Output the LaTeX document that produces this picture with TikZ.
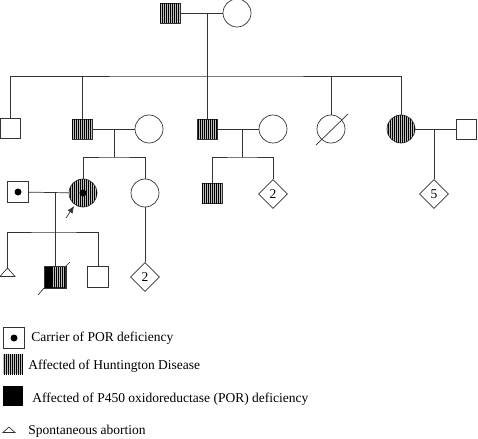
\documentclass[tikz,border=0pt]{standalone}
\usepackage{fontspec}
\setmainfont{Liberation Serif}
\usepackage{tikz}
\usetikzlibrary{calc}
\usetikzlibrary{arrows.meta}
\usetikzlibrary{shapes.geometric}
\usetikzlibrary{patterns.meta}
\tikzset{>=latex}
\tikzstyle{male} = [rectangle, draw=black!80, minimum size=20pt, inner sep=0pt]
\tikzstyle{female} = [circle, draw=black!80, minimum size=28pt, inner sep=0pt]
\tikzstyle{unk} = [diamond, draw=black!80, minimum size=29pt, inner sep=0pt, aspect=1]
\tikzstyle{hd} = [fill=gray!50, postaction={pattern={Lines[angle=90, distance=2pt, line width=0.7pt]}}]
\tikzstyle{txt} = [anchor=west, inner sep=0pt]

\begin{document}
\begin{tikzpicture}[x=1pt, y=-1pt, line width=0.7pt, draw=black!80, font=\fontsize{13.5}{16}\selectfont]
\useasboundingbox (0,0) rectangle (478,438);
\node [male, hd] (I1) at (170,13) {};
\node [female] (I2) at (237,13) {};
\coordinate (m1) at (207,13);
\coordinate (s1) at (207,76);
\draw (I1) -- (I2);
\draw (m1) -- (s1);
\node [male] (II1) at (10,128) {};
\node [male, hd] (II2) at (82,129) {};
\node [female] (II3) at (149,129) {};
\node [male, hd] (II4) at (207,129) {};
\node [female] (II5) at (273,129) {};
\node [female] (II6) at (331,129) {};
\node [female, hd] (II7) at (401,129) {};
\node [male] (II8) at (466,129) {};
\draw (II1) |- (s1) -| (II7);
\draw (II2) -- (II2 |- s1);
\draw (II4) -- (II4 |- s1);
\draw (II6) -- (II6 |- s1);
\draw ($(II6)+(-15,16)$) -- ($(II6)+(17,-15)$);
\draw (II2) -- (II3);
\draw (II4) -- (II5);
\draw (II7) -- (II8);
\coordinate (m2) at (114,129);
\coordinate (s2) at (114,157);
\coordinate (m3) at (242,129);
\coordinate (s3) at (242,157);
\coordinate (m4) at (434,129);
\draw (m2) -- (s2);
\draw (m3) -- (s3);
\node [male, minimum size=21pt] (III1) at (18,192) {};
\node [female, hd] (III2) at (83,193) {};
\node [female] (III3) at (145,193) {};
\node [male, hd] (III4) at (212,193) {};
\node [unk] (III5) at (273,194) {2};
\node [unk] (III6) at (434,194) {5};
\fill (III1) circle (3.5pt);
\fill (III2) circle (3.5pt);
\draw (III2) |- (s2) -| (III3);
\draw (III4) |- (s3) -| (III5);
\draw (m4) -- (III6);
\coordinate (ar) at (66,218);
\draw [-{Latex[length=7pt, width=6pt]}, shorten >=1.5pt] (ar) -- (III2);
\draw (III1) -- (III2);
\coordinate (m5) at (55,193);
\coordinate (s5) at (55,232);
\coordinate (IV1) at (7.5,268);
\node [male, hd, minimum size=21pt] (IV2) at (55,277) {};
\fill [black] (IV2.north west) rectangle ($(IV2.south)+(-2,0)$);
\draw (IV2.north west) rectangle (IV2.south east);
\draw (IV2.south west) -- ++(-6,7);
\draw (IV2.north east) -- ++(4,-4);
\node [male, minimum size=21pt] (IV3) at (98,277) {};
\node [unk] (IV4) at (145,277) {2};
\draw (IV1) -- ++(-7.5,8.5) -- ++(15,0) -- cycle;
\draw (m5) -- (IV2);
\draw (IV1) |- (s5) -| (IV3);
\draw (III3) -- (IV4);
\node [male, minimum size=21pt] (L1) at (14,338) {};
\fill (L1) circle (3.5pt);
\node [txt] (t1) at (31,338) {Carrier of POR deficiency};
\node [rectangle, hd, minimum size=20pt, inner sep=0pt] (L2) at (13,364) {};
\node [txt] (t2) at (28,366) {Affected of Huntington Disease};
\node [rectangle, fill=black, minimum size=20pt, inner sep=0pt] (L3) at (13,396) {};
\node [txt] (t3) at (32,399) {Affected of P450 oxidoreductase (POR) deficiency};
\coordinate (L4) at (9,427);
\draw (L4) -- ++(-6,5.5) -- ++(12,0) -- cycle;
\node [txt] (t4) at (28,431) {Spontaneous abortion};
\end{tikzpicture}
\end{document}
